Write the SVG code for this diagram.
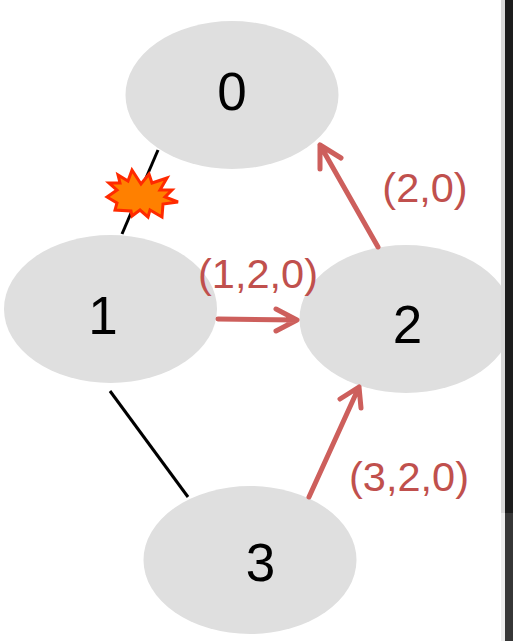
<svg xmlns="http://www.w3.org/2000/svg" width="513" height="641" viewBox="0 0 513 641">
<style>
.node{fill:#dfdfdf}
.num{font-family:"Liberation Sans",Arial,sans-serif;font-size:53px;fill:#000;text-anchor:middle}
.lab{font-family:"Liberation Sans",Arial,sans-serif;font-size:41.500px;fill:#c0504d;text-anchor:middle}
.edge{fill:none;stroke:#000;stroke-width:3}
.msg{fill:none;stroke:#cd5f5c;stroke-width:5;stroke-linecap:round;stroke-linejoin:round}
</style>
<rect width="513" height="641" fill="#fff"/>
<g id="node-0"><ellipse class="node" cx="232" cy="95" rx="106.500" ry="74"/><text class="num" x="232" y="110">0</text></g>
<g id="node-1"><ellipse class="node" cx="110.500" cy="309" rx="106.500" ry="74"/><text class="num" x="103" y="334">1</text></g>
<g id="node-2"><ellipse class="node" cx="406" cy="319" rx="106.500" ry="74"/><text class="num" x="407.500" y="343">2</text></g>
<g id="node-3"><ellipse class="node" cx="250" cy="560" rx="106.500" ry="74"/><text class="num" x="260.500" y="581">3</text></g>
<g id="connectors">
<path class="edge" d="M158 150L122 234"/>
<path class="edge" d="M110 391L188 497"/>
<path class="msg" d="M378 247L320 145M341 158L320 145L320 169"/>
<path class="msg" d="M218 319L297 320M276 309L297 320L276 331"/>
<path class="msg" d="M309 497L359 387M340 399L359 387L361 408"/>
</g>
<g id="burst">
<polygon points="107,197 117,190 109,183 120,183 118,175 128,181 132,170 141,184 149,174 152,183 167,178 160,190 172,190 165,197 178,202 163,204 162,217 150,210 148,217 140,210 132,216 131,211 115,210 117,203" fill="#ff8000" stroke="#ff2a00" stroke-width="3" stroke-linejoin="miter"/>
</g>
<g id="labels">
<text class="lab" x="425" y="202">(2,0)</text>
<text class="lab" x="258" y="288">(1,2,0)</text>
<text class="lab" x="409" y="491">(3,2,0)</text>
</g>
<g id="scrollbar">
<rect x="501" y="0" width="4" height="513" fill="#d9d9d9"/>
<rect x="505" y="0" width="8" height="513" fill="#1c1c1c"/>
<rect x="501" y="513" width="4" height="128" fill="#ededed"/>
<rect x="505" y="513" width="8" height="128" fill="#363636"/>
</g>
</svg>
